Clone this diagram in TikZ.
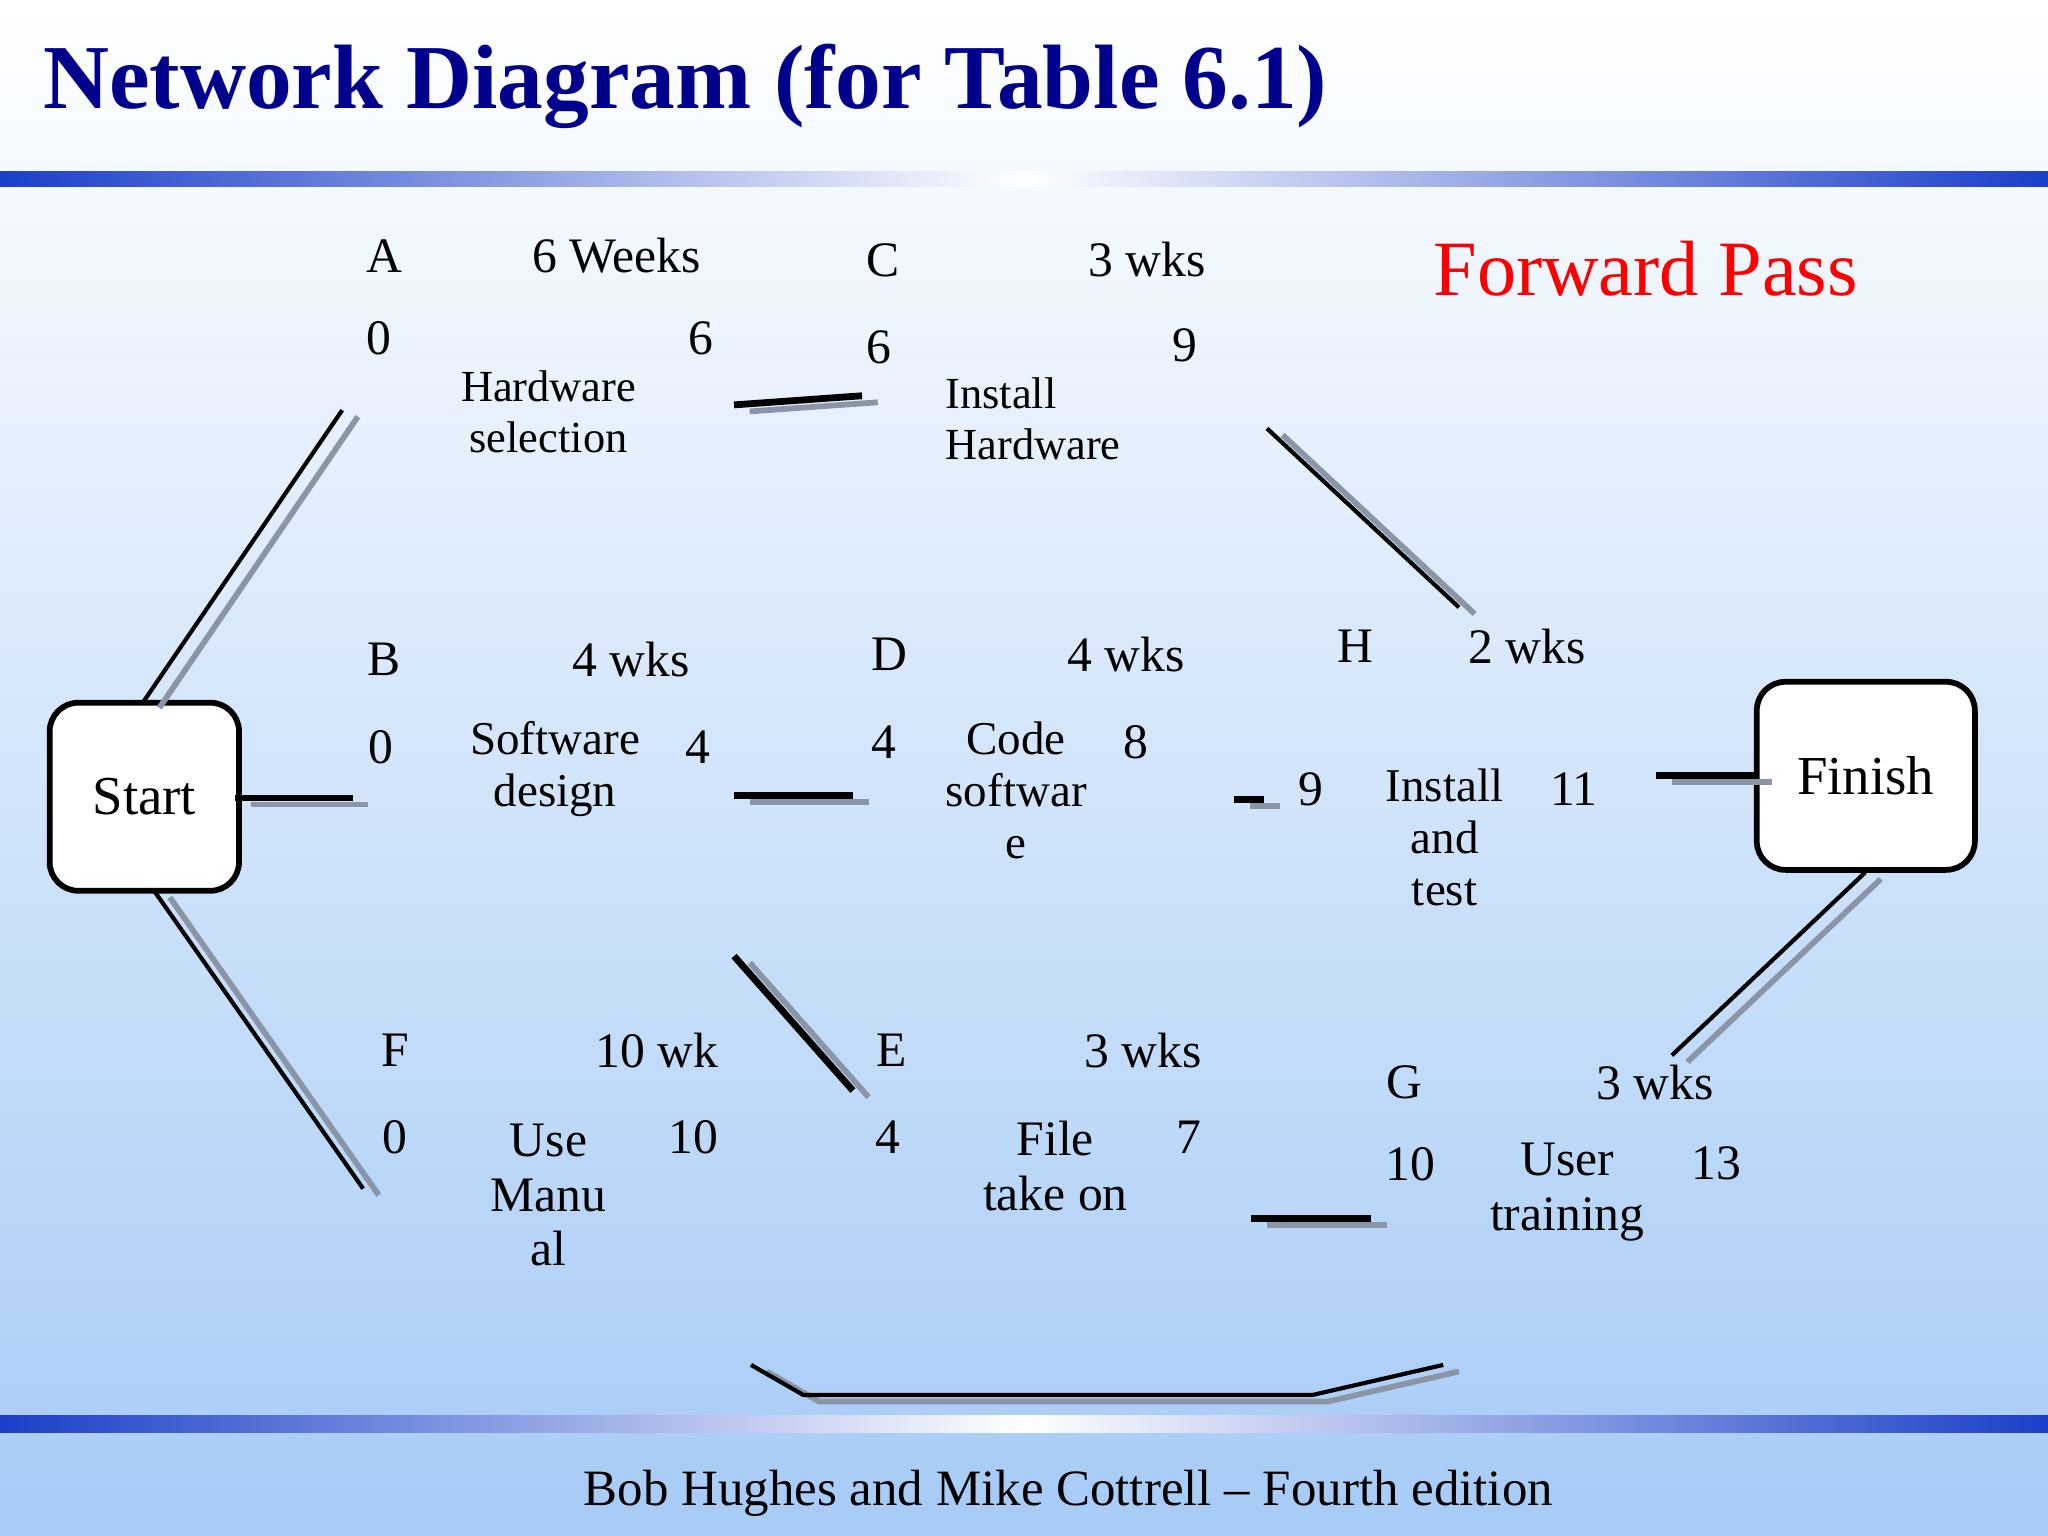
\documentclass[tikz,border=0pt]{standalone}
\usepackage{fontspec}
\setmainfont{Liberation Serif}
\usetikzlibrary{calc}
\definecolor{bgtop}{HTML}{FFFFFF}
\definecolor{bgbot}{HTML}{A6CBF6}
\definecolor{barblue}{HTML}{1A3FC8}
\definecolor{titleblue}{HTML}{00008C}
\definecolor{shadowgray}{HTML}{8A96A8}
\tikzset{
  lbl/.style={font=\fontsize{19pt}{21pt}\selectfont, align=center, inner sep=0pt},
  box/.style={draw=black, line width=2.2pt, fill=white, rounded corners=11pt},
  shad/.style={draw=shadowgray, line width=2.2pt},
  conn/.style={draw=black, line width=1.6pt},
  thk/.style={draw=black, line width=2.6pt},
}
\begin{document}
\begin{tikzpicture}[x=0.5pt,y=-0.5pt]
\useasboundingbox (0,0) rectangle (1568,1176);
\shade[top color=bgtop, bottom color=bgbot] (0,0) rectangle (1568,1176);
% bars
\shade[left color=barblue, right color=barblue, middle color=white] (0,131) rectangle (1568,143);
\shade[left color=barblue, right color=barblue, middle color=white] (0,1084) rectangle (1568,1097);
\node[anchor=west, text=titleblue, font=\bfseries\fontsize{35pt}{37pt}\selectfont] (title) at (26,66) {Network Diagram (for Table 6.1)};
\node[text=red, font=\fontsize{30pt}{32pt}\selectfont] (fp) at (1260,206) {Forward Pass};
\node[font=\fontsize{19.5pt}{21pt}\selectfont] (foot) at (818,1143) {Bob Hughes and Mike Cottrell -- Fourth edition};
% boxes
\node[box, minimum width=72.5pt, minimum height=72pt, font=\fontsize{21pt}{23pt}\selectfont] (start) at (110.5,610) {Start};
\node[box, minimum width=83.5pt, minimum height=72pt, font=\fontsize{21pt}{23pt}\selectfont] (finish) at (1428.5,594) {Finish};
% texts
\node[lbl] (A) at (294,196) {A};
\node[lbl] (Ad) at (472,196) {6 Weeks};
\node[lbl] (A0) at (290,259) {0};
\node[lbl] (A6) at (537,259) {6};
\node[lbl,font=\fontsize{17pt}{19.5pt}\selectfont] (An) at (420,315) {Hardware\\selection};
\node[lbl] (C) at (676,199) {C};
\node[lbl] (Cd) at (878,199) {3 wks};
\node[lbl] (C6) at (673,266) {6};
\node[lbl] (C9) at (907,264) {9};
\node[lbl,font=\fontsize{17pt}{19.5pt}\selectfont, align=left] (Cn) at (791,321) {Install\\Hardware};
\node[lbl] (B) at (294,505) {B};
\node[lbl] (Bd) at (483,505) {4 wks};
\node[lbl] (B0) at (292,572) {0};
\node[lbl] (B4) at (534,572) {4};
\node[lbl,font=\fontsize{18pt}{20pt}\selectfont] (Bn) at (425,589) {Software\\design};
\node[lbl] (D) at (681,501) {D};
\node[lbl] (Dd) at (862,501) {4 wks};
\node[lbl] (D4) at (677,568) {4};
\node[lbl] (D8) at (870,568) {8};
\node[lbl,font=\fontsize{18pt}{20pt}\selectfont] (Dn) at (778,605) {Code\\softwar\\e};
\node[lbl] (H) at (1038,495) {H};
\node[lbl] (Hd) at (1169,495) {2 wks};
\node[lbl] (H9) at (1004,604) {9};
\node[lbl] (H11) at (1205,604) {11};
\node[lbl,font=\fontsize{18pt}{20pt}\selectfont] (Hn) at (1106,641) {Install\\and\\test};
\node[lbl] (F) at (303,804) {F};
\node[lbl] (Fd) at (503,804) {10 wk};
\node[lbl] (F0) at (302,871) {0};
\node[lbl] (F10) at (531,871) {10};
\node[lbl] (Fn) at (420,915) {Use\\Manu\\al};
\node[lbl] (E) at (683,804) {E};
\node[lbl] (Ed) at (875,804) {3 wks};
\node[lbl] (E4) at (680,871) {4};
\node[lbl] (E7) at (910,871) {7};
\node[lbl] (En) at (808,893) {File\\take on};
\node[lbl] (G) at (1075,829) {G};
\node[lbl] (Gd) at (1267,829) {3 wks};
\node[lbl] (G10) at (1080,891) {10};
\node[lbl] (G13) at (1314,891) {13};
\node[lbl] (Gn) at (1200,913) {User\\training};
% connector endpoints
\foreach \n/\x/\y in {s1/110/537, a1/262/314, s2/180/611, b1/270/611, s3/118/682, f1/278/910,
  a2/562/310, c1/660/303, b2/562/609, d1/653/609, b3/562/732, e1/653/835,
  c2/970/328, h1/1117/465, d2/945/612, h2/968/612, h3/1268/594, fi1/1345/594,
  fi2/1428/668, g1/1280/808, e2/958/933, g2/1050/933,
  f2/575/1045, k1/615/1068, k2/1005/1068, g3/1105/1045}
  \coordinate (\n) at (\x,\y);
% shadows
\foreach \p/\q in {s1/a1, s2/b1, s3/f1, a2/c1, b2/d1, b3/e1, c2/h1, d2/h2, h3/fi1, fi2/g1, e2/g2}
  \draw[shad] ($(\p)+(12,5)$) -- ($(\q)+(12,5)$);
\draw[shad] ($(f2)+(12,5)$) -- ($(k1)+(12,5)$) -- ($(k2)+(12,5)$) -- ($(g3)+(12,5)$);
% lines
\foreach \p/\q in {s1/a1, s3/f1, c2/h1, fi2/g1}
  \draw[conn] (\p) -- (\q);
\foreach \p/\q in {s2/b1, a2/c1, b2/d1, b3/e1, d2/h2, h3/fi1, e2/g2}
  \draw[thk] (\p) -- (\q);
\draw[conn] (f2) -- (k1) -- (k2) -- (g3);
\end{tikzpicture}
\end{document}
